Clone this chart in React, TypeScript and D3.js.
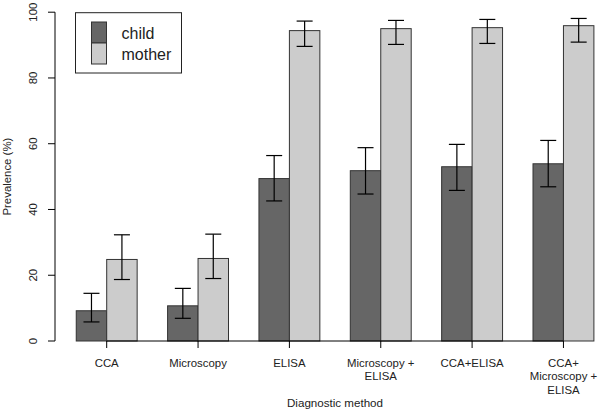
import React from "react";
import * as d3 from "d3";

const categories: string[][] = [
  ["CCA"],
  ["Microscopy"],
  ["ELISA"],
  ["Microscopy +", "ELISA"],
  ["CCA+ELISA"],
  ["CCA+", "Microscopy +", "ELISA"],
];
const childValues = [9.2, 10.7, 49.4, 51.8, 53.0, 53.9];
const childLow = [5.8, 6.9, 42.6, 44.7, 45.8, 46.9];
const childHigh = [14.5, 16.0, 56.4, 58.8, 59.8, 61.0];
const motherValues = [24.8, 25.1, 94.4, 95.0, 95.3, 95.9];
const motherLow = [18.7, 19.0, 89.6, 90.2, 90.5, 90.9];
const motherHigh = [32.3, 32.5, 97.3, 97.5, 97.8, 98.1];
const yTicks = [0, 20, 40, 60, 80, 100];
const seriesNames = ["child", "mother"];
const seriesColors = ["#666666", "#cccccc"];

export default function App() {
  const x = d3.scaleLinear().domain([1, 18]).range([76.25, 593.9]);
  const y = d3.scaleLinear().domain([0, 100]).range([341, 12.2]);
  const font = "'Liberation Sans', Arial, sans-serif";
  const capHalf = 8;

  const groups = categories.map((_, i) => {
    const base = 1 + 3 * i;
    return { i, base, center: x(base + 1) };
  });

  return (
    <svg
      width={600}
      height={410}
      style={{ position: "absolute", left: 0, top: 0, background: "#fff" }}
      fontFamily={font}
    >
      {/* bars */}
      {groups.map((g) => {
        const bars = [
          { v: childValues[g.i], lo: childLow[g.i], hi: childHigh[g.i], u: g.base, c: seriesColors[0] },
          { v: motherValues[g.i], lo: motherLow[g.i], hi: motherHigh[g.i], u: g.base + 1, c: seriesColors[1] },
        ];
        return (
          <g key={g.i}>
            {bars.map((b, k) => {
              const x0 = x(b.u);
              const x1 = x(b.u + 1);
              const cx = (x0 + x1) / 2;
              return (
                <g key={k}>
                  <rect
                    x={x0}
                    y={y(b.v)}
                    width={x1 - x0}
                    height={y(0) - y(b.v)}
                    fill={b.c}
                    stroke="#333"
                    strokeWidth={1}
                  />
                  <line x1={cx} x2={cx} y1={y(b.lo)} y2={y(b.hi)} stroke="#000" strokeWidth={1.2} />
                  <line x1={cx - capHalf} x2={cx + capHalf} y1={y(b.hi)} y2={y(b.hi)} stroke="#000" strokeWidth={1.2} />
                  <line x1={cx - capHalf} x2={cx + capHalf} y1={y(b.lo)} y2={y(b.lo)} stroke="#000" strokeWidth={1.2} />
                </g>
              );
            })}
          </g>
        );
      })}

      {/* x axis */}
      <line x1={groups[0].center} x2={groups[groups.length - 1].center} y1={y(0)} y2={y(0)} stroke="#000" />
      {groups.map((g) => (
        <g key={"xt" + g.i}>
          <line x1={g.center} x2={g.center} y1={y(0)} y2={y(0) + 7} stroke="#000" />
          {categories[g.i].map((line, li) => (
            <text
              key={li}
              x={g.center}
              y={367 + li * 13.3}
              textAnchor="middle"
              fontSize={11.4}
              fill="#222"
            >
              {line}
            </text>
          ))}
        </g>
      ))}
      <text x={335} y={407} textAnchor="middle" fontSize={11.6} fill="#222">
        Diagnostic method
      </text>

      {/* y axis */}
      <line x1={55} x2={55} y1={y(0)} y2={y(100)} stroke="#000" />
      {yTicks.map((t) => (
        <g key={"yt" + t}>
          <line x1={48} x2={55} y1={y(t)} y2={y(t)} stroke="#000" />
          <text
            transform={`translate(37,${y(t)}) rotate(-90)`}
            textAnchor="middle"
            fontSize={11.4}
            fill="#222"
          >
            {t}
          </text>
        </g>
      ))}
      <text
        transform={`translate(11,${(y(0) + y(100)) / 2}) rotate(-90)`}
        textAnchor="middle"
        fontSize={11.4}
        fill="#222"
      >
        Prevalence (%)
      </text>

      {/* legend */}
      <rect x={75.5} y={12.7} width={106} height={60.3} fill="#fff" stroke="#222" strokeWidth={1} />
      {seriesNames.map((n, i) => (
        <g key={n}>
          <rect x={91.5} y={22 + i * 21} width={15} height={21} fill={seriesColors[i]} stroke="#333" />
          <text x={121.5} y={39 + i * 21} fontSize={16} fill="#222">
            {n}
          </text>
        </g>
      ))}
    </svg>
  );
}
